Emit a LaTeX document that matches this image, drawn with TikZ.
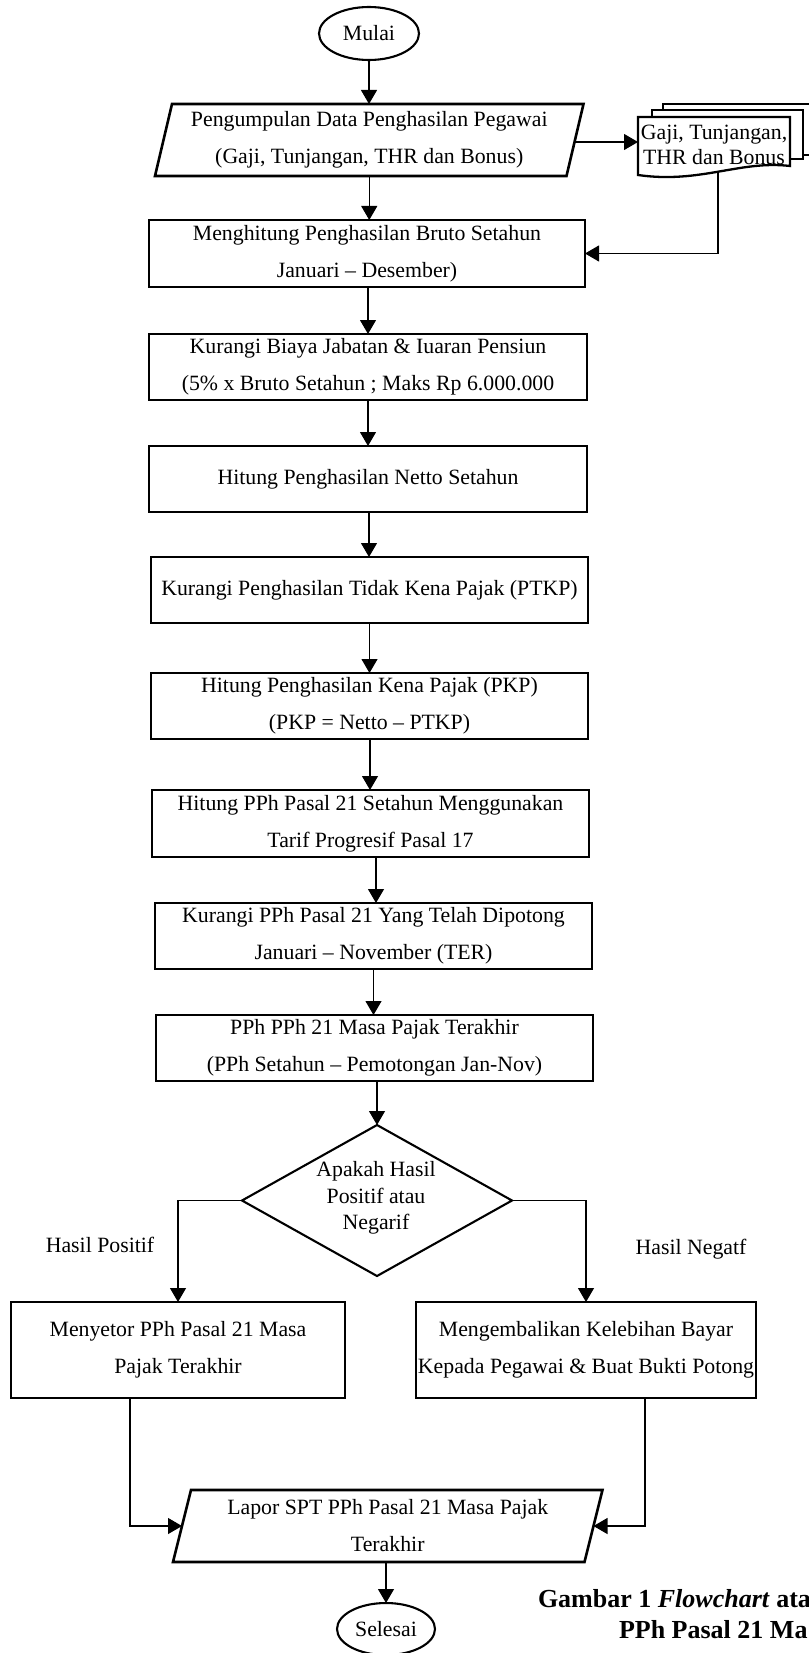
\documentclass[tikz,border=0pt]{standalone}
\usepackage{fontspec}
\setmainfont{Liberation Serif}
\usetikzlibrary{arrows.meta,shapes.geometric,calc}
\begin{document}
\begin{tikzpicture}[x=1pt,y=-1pt,
  every node/.style={inner sep=0pt, outer sep=0pt},
  box/.style={draw, line width=2.6pt, align=center, font=\fontsize{21.8}{37}\selectfont},
  para/.style={align=center, font=\fontsize{21.8}{37}\selectfont},
  term/.style={ellipse, draw, line width=2.1pt, font=\fontsize{21.8}{25}\selectfont},
  lbl/.style={font=\fontsize{21.8}{25}\selectfont},
  arr/.style={line width=1.1pt, -{Triangle[width=16pt,length=14pt]}},
  pshape/.style={line width=2.6pt, line join=miter},
  docshape/.style={line width=2.3pt, line join=miter}
]
\fill[white] (0,0) rectangle (808,1653);
\useasboundingbox (0,0) rectangle (808,1653);

% start
\node[term, minimum width=100pt, minimum height=53pt] (mulai) at (369,33.5) {Mulai};

% input parallelogram
\node[para, minimum width=411.5pt, minimum height=72pt] (p1) at (369.25,140) {Pengumpulan Data Penghasilan Pegawai\\(Gaji, Tunjangan, THR dan Bonus)};
\draw[pshape] ([xshift=8.5pt]p1.north west) -- ([xshift=8.5pt]p1.north east) -- ([xshift=-8.5pt]p1.south east) -- ([xshift=-8.5pt]p1.south west) -- cycle;

% multi-document
\draw[docshape] (663,110) -- (663,104) -- (825,104) -- (825,155) -- (803,155);
\draw[docshape] (652,117) -- (652,110) -- (803,110) -- (803,159) -- (790,159);
\draw[docshape, fill=white] (638,117) -- (790,117) -- (790,166) .. controls (740,160) and (700,184) .. (638,175) -- cycle;
\node[align=center, font=\fontsize{21.8}{25}\selectfont] (doc) at (714,144.5) {Gaji, Tunjangan,\\THR dan Bonus};
\coordinate (docw) at (638,142);
\coordinate (docs) at (718,172);

% process boxes
\node[box, minimum width=436pt, minimum height=67pt] (m1) at (367,253.5) {Menghitung Penghasilan Bruto Setahun\\Januari – Desember)};
\node[box, minimum width=438pt, minimum height=66pt] (m2) at (368,367) {Kurangi Biaya Jabatan \& Iuaran Pensiun\\(5\% x Bruto Setahun ; Maks Rp 6.000.000};
\node[box, minimum width=438pt, minimum height=66pt] (m3) at (368,479) {Hitung Penghasilan Netto Setahun};
\node[box, minimum width=437pt, minimum height=66pt] (m4) at (369.5,590) {Kurangi Penghasilan Tidak Kena Pajak (PTKP)};
\node[box, minimum width=437pt, minimum height=66pt] (m5) at (369.5,706) {Hitung Penghasilan Kena Pajak (PKP)\\(PKP = Netto – PTKP)};
\node[box, minimum width=437pt, minimum height=67pt] (m6) at (370.5,823.5) {Hitung PPh Pasal 21 Setahun Menggunakan\\Tarif Progresif Pasal 17};
\node[box, minimum width=437pt, minimum height=66pt] (m7) at (373.5,936) {Kurangi PPh Pasal 21 Yang Telah Dipotong\\Januari – November (TER)};
\node[box, minimum width=437pt, minimum height=66pt] (m8) at (374.5,1048) {PPh PPh 21 Masa Pajak Terakhir\\(PPh Setahun – Pemotongan Jan-Nov)};

% decision
\node[diamond, draw, line width=2.1pt, minimum width=270pt, minimum height=151pt] (dec) at (377,1200.5) {};
\node[align=center, font=\fontsize{21.8}{26.5}\selectfont] (dect) at (376,1198) {Apakah Hasil\\Positif atau\\Negarif};

\node[lbl] (hp) at (100,1245) {Hasil Positif};
\node[lbl] (hn) at (691,1249) {Hasil Negatf};

\node[box, minimum width=334pt, minimum height=96pt] (lb) at (178,1350) {Menyetor PPh Pasal 21 Masa\\Pajak Terakhir};
\node[box, minimum width=340pt, minimum height=96pt] (rb) at (586,1350) {Mengembalikan Kelebihan Bayar\\Kepada Pegawai \& Buat Bukti Potong};

% output parallelogram
\node[para, minimum width=411.5pt, minimum height=72pt] (p2) at (387.75,1526) {Lapor SPT PPh Pasal 21 Masa Pajak\\Terakhir};
\draw[pshape] ([xshift=9pt]p2.north west) -- ([xshift=9pt]p2.north east) -- ([xshift=-9pt]p2.south east) -- ([xshift=-9pt]p2.south west) -- cycle;

% end
\node[term, minimum width=98pt, minimum height=52pt] (sel) at (386,1629) {Selesai};

% caption
\node[anchor=base west, font=\fontsize{26}{31}\selectfont\bfseries] (cap1) at (538,1607) {Gambar 1 \textit{Flowchart} ata};
\node[anchor=base west, font=\fontsize{26}{31}\selectfont\bfseries] (cap2) at (619,1638) {PPh Pasal 21 Ma};

% connectors
\draw[arr] (mulai.south) -- (mulai.south |- p1.north);
\draw[arr] (p1.south) -- (p1.south |- m1.north);
\draw[arr] (p1.east |- docw) -- (docw);
\draw[arr] (docs) |- (m1.east);
\draw[arr] ([xshift=1pt]m1.south) -- ([xshift=1pt]m1.south |- m2.north);
\draw[arr] (m2.south) -- (m2.south |- m3.north);
\draw[arr] ([xshift=1pt]m3.south) -- ([xshift=1pt]m3.south |- m4.north);
\draw[arr] (m4.south) -- (m4.south |- m5.north);
\draw[arr] ([xshift=0.5pt]m5.south) -- ([xshift=0.5pt]m5.south |- m6.north);
\draw[arr] ([xshift=5.5pt]m6.south) -- ([xshift=5.5pt]m6.south |- m7.north);
\draw[arr] (m7.south) -- (m7.south |- m8.north);
\draw[arr] (dec.north |- m8.south) -- (dec.north);
\draw[arr] (dec.west) -| (lb.north);
\draw[arr] (dec.east) -| (rb.north);
\draw[arr] ([xshift=-48pt]lb.south) |- (p2.west);
\draw[arr] ([xshift=59pt]rb.south) |- (p2.east);
\draw[arr] (sel.north |- p2.south) -- (sel.north);
\end{tikzpicture}
\end{document}
